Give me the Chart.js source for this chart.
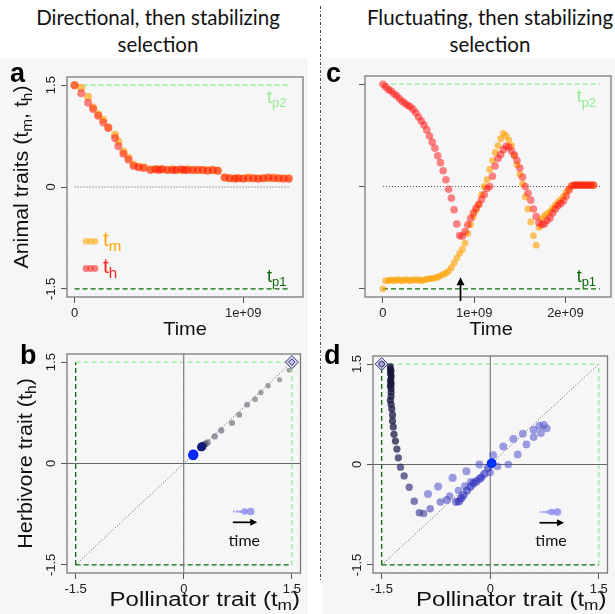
<!DOCTYPE html>
<html>
<head>
<meta charset="utf-8">
<script src="https://cdn.jsdelivr.net/npm/chart.js@4.4.0/dist/chart.umd.min.js"></script>
<style>
  body { margin: 0; width: 615px; height: 614px; position: relative; background: #fff; overflow: hidden; }
  canvas {
    position: absolute;
    background-color: #f6f6f6;
    background-image: radial-gradient(circle, #ffffff 1.2px, transparent 1.6px);
    background-size: 16px 16px;
  }
  .title { position: absolute; width: 320px; text-align: center; font-family: Lato, "Open Sans", sans-serif; font-size: 20.5px; line-height: 27px; color: #111; }
  .letter { position: absolute; font-family: "Liberation Sans", Arial, sans-serif; font-weight: bold; font-size: 27px; line-height: 24px; color: #000; }
  svg { position: absolute; left: 0; top: 0; pointer-events: none; }
</style>
</head>
<body>
<div class="title" style="left:-2px; top:4px;">Directional, then stabilizing<br>selection</div>
<div class="title" style="left:330px; top:4px;">Fluctuating, then stabilizing<br>selection</div>

<canvas id="chartA" width="308" height="280" style="left:0; top:58px;"></canvas>
<canvas id="chartC" width="293" height="280" style="left:322px; top:58px;"></canvas>
<canvas id="chartB" width="308" height="276" style="left:0; top:338px;"></canvas>
<canvas id="chartD" width="293" height="276" style="left:322px; top:338px;"></canvas>

<div class="letter" style="left:10px; top:61px;">a</div>
<div class="letter" style="left:326px; top:61px;">c</div>
<div class="letter" style="left:20px; top:343px;">b</div>
<div class="letter" style="left:324px; top:343px;">d</div>

<svg width="615" height="614">
  <line x1="320.5" y1="6" x2="320.5" y2="580" stroke="#444" stroke-width="1" stroke-dasharray="3 2 1 2"/>
</svg>

<script>
// ---- data (time in units of 1e9) ----
const traitTicks = [-1.5, 0, 1.5];
const timeTicksA = [0, 1];
const timeTicksC = [0, 1, 2];
const tp1 = -1.5;
const tp2 = 1.5;

// panel a: directional, then stabilizing
const timeA = [0, 0.04, 0.08, 0.11, 0.14, 0.17, 0.20, 0.24, 0.26, 0.29, 0.32, 0.35, 0.38, 0.41, 0.45,
  0.48, 0.50, 0.52, 0.55, 0.58, 0.60, 0.63, 0.65, 0.67, 0.70, 0.73, 0.76, 0.79, 0.82, 0.85,
  0.89, 0.92, 0.95, 0.97, 1.00, 1.03, 1.06, 1.09, 1.12, 1.15, 1.18, 1.21, 1.24, 1.27];
const tmA = [1.50, 1.46, 1.33, 1.17, 1.07, 0.99, 0.88, 0.77, 0.67, 0.52, 0.43, 0.33, 0.30, 0.29, 0.26,
  0.26, 0.26, 0.26, 0.25, 0.26, 0.25, 0.25, 0.25, 0.26, 0.25, 0.25, 0.25, 0.25, 0.25, 0.24,
  0.14, 0.13, 0.13, 0.13, 0.13, 0.14, 0.13, 0.13, 0.13, 0.13, 0.14, 0.13, 0.13, 0.13];
const thA = [1.50, 1.38, 1.24, 1.15, 1.05, 0.95, 0.87, 0.72, 0.60, 0.49, 0.40, 0.31, 0.29, 0.28, 0.25,
  0.26, 0.25, 0.26, 0.25, 0.25, 0.25, 0.26, 0.25, 0.25, 0.25, 0.25, 0.25, 0.24, 0.25, 0.24,
  0.14, 0.13, 0.12, 0.13, 0.12, 0.13, 0.13, 0.12, 0.13, 0.14, 0.13, 0.13, 0.12, 0.12];

// panel c: fluctuating, then stabilizing
const timeC = [0, 0.03, 0.06, 0.09, 0.12, 0.15, 0.18, 0.21, 0.24, 0.27, 0.30, 0.33, 0.36, 0.39, 0.42,
  0.45, 0.48, 0.51, 0.54, 0.57, 0.60, 0.63, 0.66, 0.69, 0.72, 0.75, 0.78, 0.81, 0.84, 0.87,
  0.90, 0.93, 0.96, 0.99, 1.02, 1.05, 1.08, 1.11, 1.14, 1.17, 1.20, 1.23, 1.26, 1.29, 1.32,
  1.35, 1.38, 1.41, 1.44, 1.47, 1.50, 1.53, 1.56, 1.59, 1.62, 1.65, 1.68, 1.71, 1.74, 1.77,
  1.80, 1.83, 1.86, 1.89, 1.92, 1.95, 1.98, 2.01, 2.04, 2.07, 2.10, 2.13, 2.16, 2.19, 2.22,
  2.25, 2.28, 2.31];
const tmC = [-1.50, -1.38, -1.38, -1.37, -1.38, -1.37, -1.37, -1.38, -1.37, -1.37, -1.38, -1.37, -1.37, -1.37, -1.38,
  -1.37, -1.36, -1.35, -1.35, -1.34, -1.33, -1.31, -1.29, -1.27, -1.24, -1.19, -1.12, -1.05, -0.98, -0.92,
  -0.83, -0.69, -0.56, -0.44, -0.35, -0.27, -0.12, 0.00, 0.10, 0.25, 0.38, 0.50, 0.60, 0.70, 0.78,
  0.74, 0.68, 0.60, 0.45, 0.32, 0.18, 0.04, -0.15, -0.33, -0.52, -0.72, -0.86, -0.60, -0.47, -0.43,
  -0.40, -0.37, -0.32, -0.27, -0.23, -0.19, -0.14, -0.08, -0.03, 0.01, 0.02, 0.02, 0.02, 0.02, 0.02,
  0.02, 0.02, 0.02];
const thC = [1.50, 1.46, 1.42, 1.40, 1.36, 1.33, 1.29, 1.25, 1.22, 1.19, 1.17, 1.13, 1.08, 1.02, 0.96,
  0.90, 0.83, 0.74, 0.65, 0.56, 0.45, 0.35, 0.23, 0.10, -0.04, -0.17, -0.34, -0.55, -0.72, -0.73,
  -0.66, -0.56, -0.47, -0.39, -0.32, -0.26, -0.19, -0.12, -0.03, 0.00, 0.15, 0.30, 0.41, 0.47, 0.54,
  0.59, 0.58, 0.52, 0.46, 0.38, 0.27, 0.14, 0.00, -0.10, -0.20, -0.33, -0.44, -0.53, -0.56, -0.55,
  -0.50, -0.46, -0.39, -0.33, -0.28, -0.25, -0.21, -0.14, -0.05, 0.01, 0.02, 0.02, 0.02, 0.02, 0.02,
  0.02, 0.02, 0.02];

const arrowTimeC = 0.85;   // arrow under panel c
const lineEndA = 1.28;
const lineEndC = 2.38;
const lim = 1.62;

// ---- styling ----
const FONT = '"Liberation Sans", Arial, sans-serif';
const lightGreen = '#90ee90';
const darkGreen = '#0a6a0a';
const tmColor = 'rgba(255,160,0,0.62)';
const thColor = 'rgba(255,20,20,0.52)';

function pts(xs, ys) {
  return xs.map((x, i) => ({ x: x, y: ys[i] }));
}

function seg(x0, y0, x1, y1, color, dash, width) {
  return {
    type: 'line', data: [{ x: x0, y: y0 }, { x: x1, y: y1 }],
    borderColor: color, borderDash: dash, borderWidth: width || 1,
    pointRadius: 0, order: 10, fill: false
  };
}

// text with subscripts; stretch widens along the text direction
function richText(ctx, parts, x, y, size, color, rotate, align, stretch) {
  ctx.save();
  ctx.translate(x, y);
  if (rotate) ctx.rotate(-Math.PI / 2);
  ctx.scale(stretch || 1, 1);
  ctx.fillStyle = color;
  ctx.textBaseline = 'middle';
  ctx.textAlign = 'left';
  let w = 0;
  parts.forEach(([s, sub]) => {
    ctx.font = (sub ? size * 0.72 : size) + 'px ' + FONT;
    w += ctx.measureText(s).width;
  });
  let cx = align === 'right' ? -w : align === 'left' ? 0 : -w / 2;
  parts.forEach(([s, sub]) => {
    ctx.font = (sub ? size * 0.72 : size) + 'px ' + FONT;
    ctx.fillText(s, cx, sub ? size * 0.32 : 0);
    cx += ctx.measureText(s).width;
  });
  ctx.restore();
}

function lerpColor(stops, f) {
  for (let i = 1; i < stops.length; i++) {
    if (f <= stops[i][0]) {
      const [f0, c0] = stops[i - 1];
      const [f1, c1] = stops[i];
      const k = (f - f0) / (f1 - f0 || 1);
      const c = c0.map((v, j) => v + (c1[j] - v) * k);
      return 'rgba(' + Math.round(c[0]) + ',' + Math.round(c[1]) + ',' + Math.round(c[2]) + ',' + c[3].toFixed(2) + ')';
    }
  }
  const c = stops[stops.length - 1][1];
  return 'rgba(' + c.join(',') + ')';
}

function axis(min, max, ticks, size, labelFn) {
  return {
    type: 'linear', min: min, max: max,
    afterBuildTicks: s => { s.ticks = ticks.map(v => ({ value: v })); },
    ticks: labelFn ? { font: { family: FONT, size: 13 }, color: '#222', padding: 3, maxRotation: 0, callback: labelFn }
                   : { display: false },
    grid: { drawOnChartArea: false, drawTicks: true, tickLength: 6, color: '#555', lineWidth: 1 },
    border: { display: false },
    afterFit: s => { if (s.isHorizontal()) s.height = size; else s.width = size; }
  };
}

const timeLabel = v => v === 0 ? '0' : v + 'e+09';
const traitLabel = v => String(v);

function framePlugin(o) {
  return {
    id: 'frame',
    afterDatasetsDraw(chart) {
      const ctx = chart.ctx;
      const a = chart.chartArea;
      const sx = chart.scales.x, sy = chart.scales.y;
      ctx.save();
      ctx.strokeStyle = '#7a7a7a';
      ctx.lineWidth = 1.3;
      ctx.strokeRect(a.left, a.top, a.right - a.left, a.bottom - a.top);
      if (o.yLabels) {
        traitTicks.forEach(v => {
          ctx.save();
          ctx.translate(a.left - 16, sy.getPixelForValue(v));
          ctx.rotate(-Math.PI / 2);
          ctx.font = '13px ' + FONT;
          ctx.fillStyle = '#222';
          ctx.textAlign = 'center';
          ctx.textBaseline = 'middle';
          ctx.fillText(String(v), 0, 0);
          ctx.restore();
        });
      }
      if (o.xTitle) richText(ctx, o.xTitle, (a.left + a.right) / 2 + o.xShift, a.bottom + o.xOff, o.xSize, '#111', false, 'center', o.xStretch);
      if (o.yTitle) richText(ctx, o.yTitle, o.yX, (a.top + a.bottom) / 2 + o.yShift, o.ySize, '#111', true, 'center', o.yStretch);
      if (o.extra) o.extra(chart, ctx, a, sx, sy);
      ctx.restore();
    }
  };
}

function tpLabels(ctx, a, sx, sy, xEnd) {
  const xr = sx.getPixelForValue(xEnd) - 4;
  richText(ctx, [['t', 0], ['p2', 1]], xr, sy.getPixelForValue(tp2) + 13, 18, lightGreen, false, 'right');
  richText(ctx, [['t', 0], ['p1', 1]], xr, sy.getPixelForValue(tp1) - 12, 18, darkGreen, false, 'right');
}

function timeLegend(ctx, sx, sy) {
  const x0 = sx.getPixelForValue(0.70);
  const yd = sy.getPixelForValue(-0.71);
  [[0, 1], [3, 1.2], [6, 1.6], [10.5, 3.3], [16.5, 3.8]].forEach(([dx, r]) => {
    ctx.beginPath();
    ctx.fillStyle = 'rgba(110,110,235,0.65)';
    ctx.arc(x0 + dx, yd, r, 0, Math.PI * 2);
    ctx.fill();
  });
  const ya = sy.getPixelForValue(-0.87);
  const xa0 = sx.getPixelForValue(0.68), xa1 = sx.getPixelForValue(1.02);
  ctx.strokeStyle = '#000';
  ctx.fillStyle = '#000';
  ctx.lineWidth = 1.7;
  ctx.beginPath(); ctx.moveTo(xa0, ya); ctx.lineTo(xa1 - 5, ya); ctx.stroke();
  ctx.beginPath(); ctx.moveTo(xa1, ya); ctx.lineTo(xa1 - 7, ya - 3.5); ctx.lineTo(xa1 - 7, ya + 3.5); ctx.closePath(); ctx.fill();
  ctx.font = '16px Lato, "Open Sans", sans-serif';
  ctx.textAlign = 'center';
  ctx.textBaseline = 'middle';
  ctx.fillStyle = '#111';
  ctx.fillText('time', sx.getPixelForValue(0.84), sy.getPixelForValue(-1.14));
}

function baseOptions(padding, scales) {
  return {
    responsive: false, animation: false, events: [],
    layout: { padding: padding },
    plugins: { legend: { display: false }, tooltip: { enabled: false } },
    scales: scales
  };
}

// ---- panel a ----
new Chart(document.getElementById('chartA'), {
  type: 'scatter',
  data: {
    datasets: [
      { data: pts(timeA, thA), backgroundColor: thColor, pointRadius: 4, borderWidth: 0, order: 0 },
      { data: pts(timeA, tmA), backgroundColor: tmColor, pointRadius: 4, borderWidth: 0, order: 1 },
      seg(0, 0, lineEndA, 0, '#555', [1, 2], 1),
      seg(0, tp2, lineEndA, tp2, lightGreen, [5, 3], 1.3),
      seg(0, tp1, lineEndA, tp1, darkGreen, [5, 3], 1.3)
    ]
  },
  options: baseOptions({ left: 0, right: 5, top: 19, bottom: 0 }, {
    x: axis(-0.045, 1.355, timeTicksA, 41, timeLabel),
    y: axis(-lim, lim, traitTicks, 67, null)
  }),
  plugins: [framePlugin({
    yLabels: true,
    xTitle: [['Time', 0]], xShift: 0, xOff: 33, xSize: 19, xStretch: 1.05,
    yTitle: [['Animal traits (t', 0], ['m', 1], [', t', 0], ['h', 1], [')', 0]], yX: 22, yShift: -10, ySize: 20, yStretch: 1.07,
    extra: (chart, ctx, a, sx, sy) => {
      tpLabels(ctx, a, sx, sy, lineEndA);
      const lx = a.left + 19;
      [[sy.getPixelForValue(-0.8), 'rgba(255,165,0,0.55)', 'm', '#ffa500'],
       [sy.getPixelForValue(-1.2), 'rgba(255,30,30,0.55)', 'h', '#ff2020']].forEach(([y, c, s, tc]) => {
        [0, 4.5, 9].forEach(dx => {
          ctx.beginPath(); ctx.fillStyle = c; ctx.arc(lx + dx, y, 3.4, 0, Math.PI * 2); ctx.fill();
        });
        richText(ctx, [['t', 0], [s, 1]], lx + 17, y - 1, 21, tc, false, 'left');
      });
    }
  })]
});

// ---- panel c ----
new Chart(document.getElementById('chartC'), {
  type: 'scatter',
  data: {
    datasets: [
      { data: pts(timeC, thC), backgroundColor: thColor, pointRadius: 3.8, borderWidth: 0, order: 0 },
      { data: pts(timeC, tmC), backgroundColor: tmColor, pointRadius: 3.4, borderWidth: 0, order: 1 },
      seg(0, 0, lineEndC, 0, '#555', [1, 2], 1),
      seg(0, tp2, lineEndC, tp2, lightGreen, [5, 3], 1.3),
      seg(0, tp1, lineEndC, tp1, darkGreen, [5, 3], 1.3)
    ]
  },
  options: baseOptions({ left: 0, right: 3, top: 18, bottom: 0 }, {
    x: axis(-0.197, 2.5, timeTicksC, 41, timeLabel),
    y: axis(-lim, lim, traitTicks, 43, null)
  }),
  plugins: [framePlugin({
    yLabels: false,
    xTitle: [['Time', 0]], xShift: 3, xOff: 33, xSize: 19, xStretch: 1.05,
    extra: (chart, ctx, a, sx, sy) => {
      tpLabels(ctx, a, sx, sy, lineEndC);
      const x = sx.getPixelForValue(arrowTimeC);
      const yTip = sy.getPixelForValue(-1.33);
      ctx.strokeStyle = '#000'; ctx.fillStyle = '#000'; ctx.lineWidth = 1.7;
      ctx.beginPath(); ctx.moveTo(x, a.bottom + 4); ctx.lineTo(x, yTip + 5); ctx.stroke();
      ctx.beginPath(); ctx.moveTo(x, yTip); ctx.lineTo(x - 4, yTip + 8); ctx.lineTo(x + 4, yTip + 8); ctx.closePath(); ctx.fill();
    }
  })]
});

// ---- panel b (t_m vs t_h from panel a) ----
const stopsB = [[0, [110, 110, 120, 0.6]], [0.3, [95, 95, 115, 0.65]], [0.5, [30, 30, 100, 0.75]], [0.7, [15, 25, 130, 0.85]], [1, [0, 40, 255, 1]]];
const tMaxA = timeA[timeA.length - 1];
new Chart(document.getElementById('chartB'), {
  type: 'scatter',
  data: {
    datasets: [
      { data: [{ x: tmA[0], y: thA[0] }], pointStyle: 'rectRot', pointRadius: 3.2, backgroundColor: 'rgba(210,210,245,0.6)', borderColor: '#2e2e7a', borderWidth: 1, order: -2 },
      { data: [{ x: tmA[0], y: thA[0] }], pointStyle: 'rectRot', pointRadius: 6.5, backgroundColor: 'rgba(200,200,240,0.5)', borderColor: '#2e2e7a', borderWidth: 1, order: -1 },
      { data: pts(tmA, thA), order: 0, borderWidth: 0,
        backgroundColor: c => lerpColor(stopsB, timeA[c.dataIndex] / tMaxA),
        pointRadius: c => 2.2 + 2.5 * Math.pow(timeA[c.dataIndex] / tMaxA, 0.7) },
      seg(-lim, 0, lim, 0, '#666', [], 1),
      seg(0, -lim, 0, lim, '#666', [], 1),
      seg(tp1, tp1, tp2, tp2, '#555', [1, 2], 1),
      seg(tp1, tp2, tp2, tp2, lightGreen, [5, 3], 1.3),
      seg(tp2, tp1, tp2, tp2, lightGreen, [5, 3], 1.3),
      seg(tp1, tp1, tp1, tp2, darkGreen, [5, 3], 1.3),
      seg(tp1, tp1, tp2, tp1, darkGreen, [5, 3], 1.3)
    ]
  },
  options: baseOptions({ left: 0, right: 6, top: 16, bottom: 0 }, {
    x: axis(-lim, lim, traitTicks, 41, traitLabel),
    y: axis(-lim, lim, traitTicks, 67, null)
  }),
  plugins: [framePlugin({
    yLabels: true,
    xTitle: [['Pollinator trait (t', 0], ['m', 1], [')', 0]], xShift: 21, xOff: 27, xSize: 20, xStretch: 1.2,
    yTitle: [['Herbivore trait (t', 0], ['h', 1], [')', 0]], yX: 26, yShift: 0, ySize: 20, yStretch: 1.08,
    extra: (chart, ctx, a, sx, sy) => timeLegend(ctx, sx, sy)
  })]
});

// ---- panel d (t_m vs t_h from panel c) ----
const stopsD = [[0, [20, 20, 55, 0.85]], [0.28, [30, 30, 75, 0.75]], [0.36, [50, 50, 140, 0.6]], [0.42, [80, 80, 205, 0.55]],
  [0.73, [80, 80, 205, 0.55]], [0.76, [45, 45, 185, 0.62]], [0.99, [45, 50, 200, 0.62]], [1, [0, 50, 255, 1]]];
const tMaxC = timeC[timeC.length - 1];
new Chart(document.getElementById('chartD'), {
  type: 'scatter',
  data: {
    datasets: [
      { data: [{ x: tmC[0], y: thC[0] }], pointStyle: 'rectRot', pointRadius: 3.2, backgroundColor: 'rgba(210,210,245,0.6)', borderColor: '#2e2e7a', borderWidth: 1, order: -2 },
      { data: [{ x: tmC[0], y: thC[0] }], pointStyle: 'rectRot', pointRadius: 6.5, backgroundColor: 'rgba(200,200,240,0.5)', borderColor: '#2e2e7a', borderWidth: 1, order: -1 },
      { data: pts(tmC, thC), order: 0, borderWidth: 0,
        backgroundColor: c => lerpColor(stopsD, timeC[c.dataIndex] / tMaxC),
        pointRadius: c => c.dataIndex === tmC.length - 1 ? 4.8 : 3.4 + 0.9 * timeC[c.dataIndex] / tMaxC },
      seg(-lim, 0, lim, 0, '#666', [], 1),
      seg(0, -lim, 0, lim, '#666', [], 1),
      seg(tp1, tp1, tp2, tp2, '#555', [1, 2], 1),
      seg(tp1, tp2, tp2, tp2, lightGreen, [5, 3], 1.3),
      seg(tp2, tp1, tp2, tp2, lightGreen, [5, 3], 1.3),
      seg(tp1, tp1, tp1, tp2, darkGreen, [5, 3], 1.3),
      seg(tp1, tp1, tp2, tp1, darkGreen, [5, 3], 1.3)
    ]
  },
  options: baseOptions({ left: 0, right: 2, top: 18, bottom: 0 }, {
    x: axis(-lim, lim, traitTicks, 41, traitLabel),
    y: axis(-lim, lim, traitTicks, 51, null)
  }),
  plugins: [framePlugin({
    yLabels: true,
    xTitle: [['Pollinator trait (t', 0], ['m', 1], [')', 0]], xShift: 21, xOff: 27, xSize: 20, xStretch: 1.2,
    extra: (chart, ctx, a, sx, sy) => timeLegend(ctx, sx, sy)
  })]
});
</script>
</body>
</html>
